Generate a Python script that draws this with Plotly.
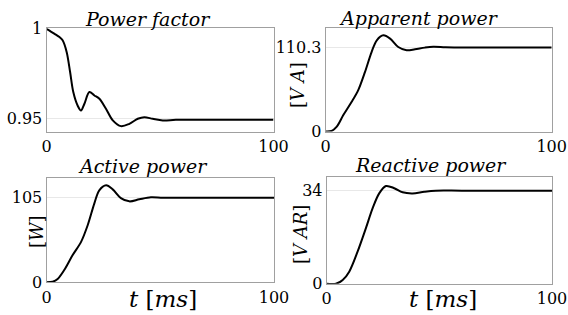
import plotly.graph_objects as go

# ---- data ----
t_pf = [0, 3.4, 5.7, 7.1, 8.9, 10.4, 11.8, 13.7, 15.2, 16.7, 18.9, 21.1, 23.3, 26.2, 29.2, 32.8, 36.5, 40.2, 43.1, 46.8, 51.2, 57, 70, 100]
pf   = [1.0, 0.9973, 0.9954, 0.9936, 0.987, 0.9759, 0.9647, 0.9572, 0.9544, 0.9582, 0.9647, 0.9628, 0.961, 0.9554, 0.9489, 0.9457, 0.947, 0.9498, 0.9507, 0.9498, 0.9489, 0.9492, 0.9493, 0.9493]

t_s = [0, 2.6, 4.9, 7.8, 11.5, 14.4, 17.4, 20.3, 22.6, 25.5, 28.5, 32.1, 35.8, 39.5, 43.9, 47.6, 52.8, 60, 100]
s   = [0, 0.7, 6.3, 21.6, 39, 54.4, 78.4, 104.5, 119.9, 126.4, 122.1, 111.1, 106.8, 108.1, 110.3, 111.4, 110.8, 110.3, 110.3]

t_p = [0, 2.7, 4.9, 7.8, 11.5, 15.2, 18.1, 21, 23.2, 26.2, 29.1, 32.7, 36.4, 40.8, 45.9, 51.1, 60, 100]
p   = [0, 0.7, 4.1, 15.2, 33.8, 50.3, 70.9, 97.8, 114.3, 120.5, 115.5, 104.7, 100.6, 103.1, 105.6, 105.0, 105.0, 105.0]

t_q = [0, 4.1, 7.1, 10, 13.7, 17.4, 20.4, 23.3, 26.3, 30, 33.7, 38.1, 43.3, 48.4, 60, 100]
q   = [0, 0, 1.35, 4.4, 11.7, 20.3, 27.6, 33.0, 35.7, 34.9, 33.4, 33.0, 33.6, 34.0, 34.0, 34.0]

titles = ["Power factor", "Apparent power", "Active power", "Reactive power"]
yticks = [[0.95, 1], [0, 110.3], [0, 105], [0, 34]]
yticktext = [["0.95", "1"], ["0", "110.3"], ["0", "105"], ["0", "34"]]
yranges = [[0.9427, 1.0003], [0, 135.7], [0, 130], [0, 39.1]]
xticks = [0, 100]
xticktext = ["0", "100"]
units = [None, "[<i>V A</i>]", "[<i>W</i>]", "[<i>V AR</i>]"]

W, H = 568, 315
FONT = "DejaVu Serif"

# panel boxes in pixels (left, right, top, bottom)
boxes = [(46.5, 273.5, 28.3, 131.5), (325.7, 551.7, 28.3, 131.5),
         (46.5, 274.0, 177.7, 282.3), (326.7, 552.0, 176.7, 283.7)]

fig = go.Figure()
series = [(t_pf, pf), (t_s, s), (t_p, p), (t_q, q)]
for i, ((tx, ty), (l, r, tp, bt)) in enumerate(zip(series, boxes)):
    xa = "x" if i == 0 else f"x{i+1}"
    ya = "y" if i == 0 else f"y{i+1}"
    fig.add_trace(go.Scatter(x=tx, y=ty, mode="lines", xaxis=xa, yaxis=ya,
                             line=dict(color="black", width=2, shape="spline", smoothing=0.9),
                             showlegend=False, hoverinfo="skip"))
    xkey = "xaxis" if i == 0 else f"xaxis{i+1}"
    ykey = "yaxis" if i == 0 else f"yaxis{i+1}"
    fig.layout[xkey] = dict(domain=[l / W, r / W], range=[0, 100], anchor=ya, automargin=False,
                            tickvals=xticks, ticktext=xticktext, showgrid=False,
                            zeroline=False, showline=True, mirror=True, linecolor="#a0a0a0",
                            linewidth=1, ticks="", tickfont=dict(family=FONT, size=16, color="black"),
                            fixedrange=True)
    fig.layout[ykey] = dict(domain=[1 - bt / H, 1 - tp / H], range=yranges[i], anchor=xa, automargin=False,
                            tickvals=yticks[i], ticktext=yticktext[i], showgrid=True,
                            gridcolor="#e8e8e8", gridwidth=1, zeroline=False, showline=True,
                            mirror=True, linecolor="#a0a0a0", linewidth=1, ticks="",
                            tickfont=dict(family=FONT, size=16, color="black"), fixedrange=True)

ann = []
title_pos = [(148, 19), (419, 18), (143, 166), (431, 165)]
for txt, (cx, cy) in zip(titles, title_pos):
    ann.append(dict(text=f"<i>{txt}</i>", x=cx / W, y=1 - cy / H, xref="paper", yref="paper",
                    xanchor="center", yanchor="middle", showarrow=False,
                    font=dict(family=FONT, size=19, color="black")))
unit_pos = [None, (298, 85), (36, 232), (300, 235)]
for u, pos in zip(units, unit_pos):
    if u is None:
        continue
    ann.append(dict(text=u, x=pos[0] / W, y=1 - pos[1] / H, xref="paper", yref="paper",
                    xanchor="center", yanchor="middle", showarrow=False, textangle=-90,
                    font=dict(family=FONT, size=18, color="black")))
for cx in (163, 443):
    ann.append(dict(text="<i>t</i> [<i>ms</i>]", x=cx / W, y=1 - 299 / H, xref="paper", yref="paper",
                    xanchor="center", yanchor="middle", showarrow=False,
                    font=dict(family=FONT, size=23, color="black")))

fig.update_layout(template="none", width=W, height=H, margin=dict(l=0, r=0, t=0, b=0),
                  paper_bgcolor="white", plot_bgcolor="white", annotations=ann)

fig.write_html("out.html", config={"displayModeBar": False},
               post_script="document.body.style.margin='0px';")
